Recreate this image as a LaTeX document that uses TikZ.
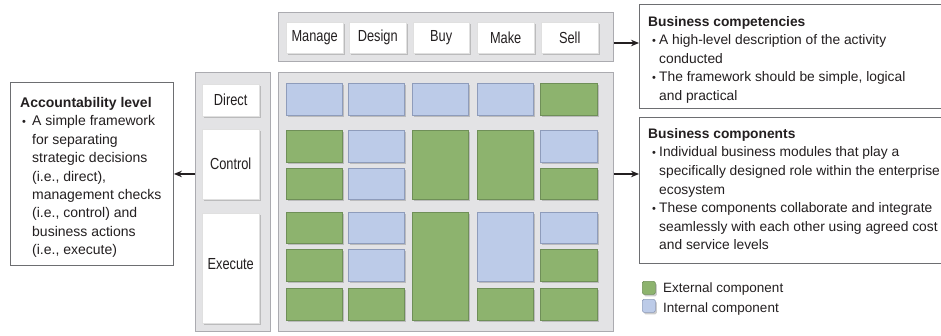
\documentclass[tikz,border=0pt]{standalone}
\usepackage{fontspec}
\setmainfont{Liberation Sans}
\newfontfamily\narrowfont[FakeStretch=0.8]{Liberation Sans}
\usetikzlibrary{arrows.meta,shadows}
\definecolor{gcol}{HTML}{8DB36E}
\definecolor{gcolb}{HTML}{6F8F58}
\definecolor{bcol}{HTML}{BCCBE8}
\definecolor{bcolb}{HTML}{8E9CBB}
\definecolor{panelcol}{HTML}{E3E3E5}
\definecolor{panelb}{HTML}{ABABB0}
\definecolor{txt}{HTML}{231F20}
\definecolor{boxb}{HTML}{6D6E71}
\newcommand\mybox[7]{\node[#2, anchor=north west, inner sep=0pt, minimum width={#5-#3}, minimum height={#6-#4}] (#1) at (#3,#4) {#7};}
\newcommand\bul[2]{\hspace*{#1}\makebox[#2][l]{\fontsize{11}{11}\selectfont\textbullet}}
\begin{document}
\begin{tikzpicture}[x=1pt,y=-1pt,
  panelbox/.style={draw=panelb, fill=panelcol, line width=0.8pt},
  shadowed/.style={drop shadow={shadow xshift=1.5pt,shadow yshift=-2pt,opacity=0.4}},
  labelbox/.style={draw=black!12, fill=white, shadowed, font=\narrowfont\fontsize{16}{18}\selectfont, text=txt},
  gcell/.style={fill=gcol, draw=gcolb, line width=0.6pt, shadowed},
  bcell/.style={fill=bcol, draw=bcolb, line width=0.6pt, shadowed},
  textbox/.style={draw=boxb, line width=0.9pt, fill=white},
  bodytext/.style={inner sep=0pt, text=txt, anchor=base west},
  arr/.style={-{Stealth[length=8pt,width=6.5pt]}, line width=1.2pt, draw=txt}]
\useasboundingbox (0,0) rectangle (941,335);

% panels
\mybox{toppanel}{panelbox}{278}{12}{613}{61}{}
\mybox{mainpanel}{panelbox}{278}{72}{613}{331}{}
\mybox{leftpanel}{panelbox}{195}{72}{270}{331}{}

% competency labels
\mybox{manage}{labelbox}{286}{22}{343}{53}{Manage}
\mybox{design}{labelbox}{349}{22}{406}{53}{Design}
\mybox{buy}{labelbox}{413}{22}{469}{53}{Buy}
\mybox{make}{labelbox}{477}{22}{534}{53}{Make}
\mybox{sell}{labelbox}{541}{22}{598}{53}{Sell}

% accountability labels
\mybox{direct}{labelbox}{202}{84}{259}{116}{Direct}
\mybox{control}{labelbox}{202}{129}{259}{199}{Control}
\mybox{execute}{labelbox}{202}{213}{259}{323}{\raisebox{8pt}{Execute}}

% grid: row 1
\mybox{c11}{bcell}{286}{83}{342}{115}{}
\mybox{c12}{bcell}{348}{83}{404}{115}{}
\mybox{c13}{bcell}{412}{83}{468}{115}{}
\mybox{c14}{bcell}{477}{83}{533}{115}{}
\mybox{c15}{gcell}{540}{83}{597}{115}{}
% rows 2-3
\mybox{c21}{gcell}{286}{130}{342}{162}{}
\mybox{c31}{gcell}{286}{168}{342}{199}{}
\mybox{c22}{bcell}{348}{130}{404}{162}{}
\mybox{c32}{bcell}{348}{168}{404}{199}{}
\mybox{c23}{gcell}{412}{130}{468}{199}{}
\mybox{c24}{gcell}{477}{130}{533}{199}{}
\mybox{c25}{bcell}{540}{130}{597}{162}{}
\mybox{c35}{gcell}{540}{168}{597}{199}{}
% rows 4-6
\mybox{c41}{gcell}{286}{212}{342}{243}{}
\mybox{c51}{gcell}{286}{249}{342}{281}{}
\mybox{c61}{gcell}{286}{288}{342}{320}{}
\mybox{c42}{bcell}{348}{212}{404}{243}{}
\mybox{c52}{bcell}{348}{249}{404}{281}{}
\mybox{c62}{gcell}{348}{288}{404}{320}{}
\mybox{c43}{gcell}{412}{212}{468}{320}{}
\mybox{c44}{bcell}{477}{212}{533}{281}{}
\mybox{c64}{gcell}{477}{288}{533}{320}{}
\mybox{c45}{bcell}{540}{212}{597}{243}{}
\mybox{c55}{gcell}{540}{249}{597}{281}{}
\mybox{c65}{gcell}{540}{288}{597}{320}{}

% text boxes
\mybox{acc}{textbox}{10}{82}{173}{265}{}
\mybox{comp}{textbox}{639}{4}{948}{108}{}
\mybox{bcomp}{textbox}{639}{117}{948}{263}{}

\node[bodytext] (acctxt) at (20,107.5) {\fontsize{14}{18.4}\selectfont\begin{tabular}[t]{@{}l@{}}
\textbf{Accountability level}\\
\bul{2pt}{10pt}A simple framework\\
\hspace*{12pt}for separating\\
\hspace*{12pt}strategic decisions\\
\hspace*{12pt}(i.e., direct),\\
\hspace*{12pt}management checks\\
\hspace*{12pt}(i.e., control) and\\
\hspace*{12pt}business actions\\
\hspace*{12pt}(i.e., execute)
\end{tabular}};

\node[bodytext] (comptxt) at (648,26) {\fontsize{13.8}{18.5}\selectfont\begin{tabular}[t]{@{}l@{}}
\textbf{Business competencies}\\
\bul{4pt}{7pt}A high-level description of the activity\\
\hspace*{11pt}conducted\\
\bul{4pt}{7pt}The framework should be simple, logical\\
\hspace*{11pt}and practical
\end{tabular}};

\node[bodytext] (bcomptxt) at (648,138.3) {\fontsize{13.8}{18.6}\selectfont\begin{tabular}[t]{@{}l@{}}
\textbf{Business components}\\
\bul{4pt}{7pt}Individual business modules that play a\\
\hspace*{11pt}specifically designed role within the enterprise\\
\hspace*{11pt}ecosystem\\
\bul{4pt}{7pt}These components collaborate and integrate\\
\hspace*{11pt}seamlessly with each other using agreed cost\\
\hspace*{11pt}and service levels
\end{tabular}};

% legend
\mybox{legext}{gcell, rounded corners=1.5pt}{642}{281}{655}{294}{}
\mybox{legint}{bcell, rounded corners=1.5pt}{642}{299}{655}{312}{}
\node[bodytext, font=\fontsize{13.5}{16}\selectfont] (legexttxt) at (663,292.5) {External component};
\node[bodytext, font=\fontsize{13.5}{16}\selectfont] (leginttxt) at (663,312) {Internal component};

% arrows
\draw[arr] (toppanel.east |- 0,43) -- (comp.west |- 0,43);
\draw[arr] (mainpanel.east |- 0,174) -- (bcomp.west |- 0,174);
\draw[arr] (leftpanel.west |- acc.east) -- (acc.east);
\end{tikzpicture}
\end{document}
